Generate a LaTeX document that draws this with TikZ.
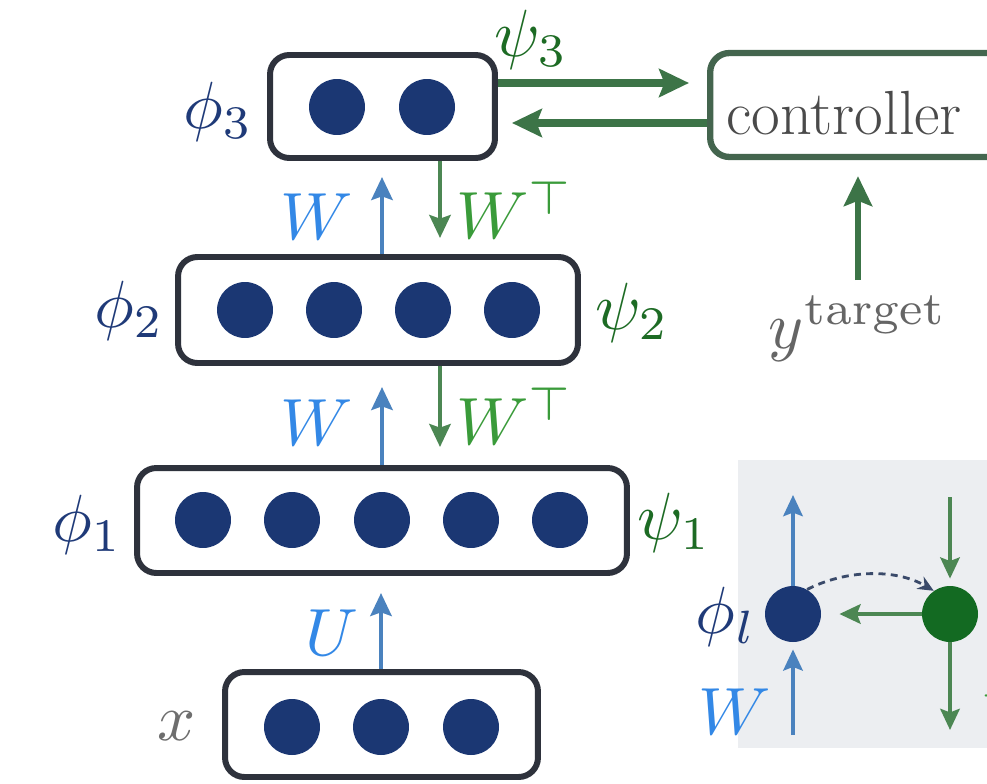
\documentclass[tikz,border=0pt]{standalone}
\usepackage{graphicx}
\usetikzlibrary{arrows.meta}

\definecolor{navy}{HTML}{1B3773}
\definecolor{labnavy}{HTML}{1F3A78}
\definecolor{psigreen}{HTML}{1D6B24}
\definecolor{wgreen}{HTML}{3A9B3A}
\definecolor{wblue}{HTML}{3388E6}
\definecolor{arrblue}{HTML}{4A82BE}
\definecolor{arrgreen}{HTML}{4C8753}
\definecolor{ctrlgreen}{HTML}{3C7447}
\definecolor{boxgray}{HTML}{2E323C}
\definecolor{ctrlframe}{HTML}{44654E}
\definecolor{softgray}{HTML}{4A4A4A}
\definecolor{panelgray}{HTML}{ECEEF1}
\definecolor{dotgreen}{HTML}{136A22}
\definecolor{dashslate}{HTML}{3A4A6A}

% math labels are set at 10pt and enlarged
\newcommand\biglab[1]{\scalebox{3.8}{#1}}

\begin{document}
\begin{tikzpicture}[x=0.02cm,y=-0.02cm,
  layer/.style={draw=boxgray, line width=3.4pt, rounded corners=11pt, fill=white, inner sep=0pt},
  ctrlbox/.style={draw=ctrlframe, line width=3.6pt, rounded corners=11pt, fill=white, inner sep=0pt},
  unit/.style={circle, fill=navy, minimum size=1.12cm, inner sep=0pt},
  gunit/.style={circle, fill=dotgreen, minimum size=1.12cm, inner sep=0pt},
  lbl/.style={inner sep=0pt},
  upw/.style={draw=arrblue, line width=2.6pt, -{Stealth[length=13pt,width=12pt,inset=2pt]}},
  downw/.style={draw=arrgreen, line width=2.6pt, -{Stealth[length=13pt,width=12pt,inset=2pt]}},
  ctrlarr/.style={draw=ctrlgreen, line width=4pt, -{Stealth[length=17pt,width=16pt,inset=3pt]}},
  thinblue/.style={draw=arrblue, line width=2.3pt, -{Stealth[length=12pt,width=11pt,inset=2pt]}},
  thingreen/.style={draw=arrgreen, line width=2.3pt, -{Stealth[length=12pt,width=11pt,inset=2pt]}}
]
\useasboundingbox (0,0) rectangle (987,784);
\clip (0,0) rectangle (987,784);

% side panel with a single unit pair
\fill[panelgray] (738,460) rectangle (1000,748);

% layer boxes
\node[layer, minimum width=4.5cm, minimum height=2.06cm] (L3) at (382.5,106.5) {};
\node[layer, minimum width=8cm, minimum height=2.12cm] (L2) at (378,310) {};
\node[layer, minimum width=9.8cm, minimum height=2.1cm] (L1) at (382,520.5) {};
\node[layer, minimum width=6.26cm, minimum height=2.1cm] (L0) at (381.5,724.5) {};

% units
\node[unit] (a1) at (337,107) {};
\node[unit] (a2) at (427,107) {};
\node[unit] (b1) at (245,310) {};
\node[unit] (b2) at (334,310) {};
\node[unit] (b3) at (423,310) {};
\node[unit] (b4) at (512,310) {};
\node[unit] (c1) at (203,520) {};
\node[unit] (c2) at (292,520) {};
\node[unit] (c3) at (382,520) {};
\node[unit] (c4) at (471,520) {};
\node[unit] (c5) at (560,520) {};
\node[unit] (d1) at (292,727) {};
\node[unit] (d2) at (381,727) {};
\node[unit] (d3) at (471,727) {};

% controller
\node[ctrlbox, anchor=west, minimum width=8cm, minimum height=2.08cm] (ctrl) at (707,105) {};
\node[anchor=west, inner sep=0pt, text=softgray, font=\fontsize{35.5}{38}\selectfont] (ctrltxt) at (726,113) {controller};

% feedforward and feedback connectors
\coordinate (uTip) at (381,593);
\coordinate (w1Tip) at (382,387);
\coordinate (g1Tip) at (440,447);
\coordinate (w2Tip) at (382,177);
\coordinate (g2Tip) at (440,238);
\draw[upw] (L0.north -| uTip) -- (uTip);
\draw[upw] (L1.north -| w1Tip) -- (w1Tip);
\draw[downw] (L2.south -| g1Tip) -- (g1Tip);
\draw[upw] (L2.north -| w2Tip) -- (w2Tip);
\draw[downw] (L3.south -| g2Tip) -- (g2Tip);

\coordinate (rOut) at (0,83);
\coordinate (rIn) at (0,123);
\draw[ctrlarr, shorten >=0.36cm] (L3.east |- rOut) -- (ctrl.west |- rOut);
\draw[ctrlarr, shorten >=0.28cm] (ctrl.west |- rIn) -- (L3.east |- rIn);

\coordinate (tBase) at (858,280);
\draw[ctrlarr, line width=3.6pt, shorten >=0.32cm] (tBase) -- (ctrl.south -| tBase);

% single unit pair in the panel
\node[unit] (pl) at (793,614) {};
\node[gunit] (ql) at (950,614) {};
\coordinate (plTop) at (793,495);
\coordinate (plBot) at (793,735);
\coordinate (qlTop) at (950,497);
\coordinate (qlBot) at (950,730);
\draw[thinblue] (pl.north) -- (plTop);
\draw[thinblue] (plBot) -- ([yshift=-4pt]pl.south);
\draw[thingreen, shorten >=4pt] (qlTop) -- (ql.north);
\draw[thingreen] (ql.south) -- (qlBot);
\draw[thingreen, line width=2.8pt, shorten >=0.36cm] (ql.west) -- (pl.east);
\draw[dashslate, line width=1.6pt, dash pattern=on 4pt off 3pt, -{Stealth[length=9pt,width=8pt]}]
  (pl.60) .. controls (845,570) and (895,568) .. (ql.125);

% labels
\node[lbl, text=labnavy] (lphi3) at (218,112) {\biglab{$\phi_3$}};
\node[lbl, text=psigreen] (lpsi3) at (531,40) {\biglab{$\psi_3$}};
\node[lbl, text=wblue] (lw2) at (317,217) {\biglab{$W$}};
\node[lbl, text=wgreen] (lwt2) at (515,210) {\biglab{$W^\top$}};
\node[lbl, text=labnavy] (lphi2) at (129,311) {\biglab{$\phi_2$}};
\node[lbl, text=psigreen] (lpsi2) at (632,313) {\biglab{$\psi_2$}};
\node[lbl, text=wblue] (lw1) at (317,423) {\biglab{$W$}};
\node[lbl, text=wgreen] (lwt1) at (515,416) {\biglab{$W^\top$}};
\node[lbl, text=labnavy] (lphi1) at (87,525) {\biglab{$\phi_1$}};
\node[lbl, text=psigreen] (lpsi1) at (674,523) {\biglab{$\psi_1$}};
\node[lbl, text=wblue] (lu) at (332,633) {\biglab{$U$}};
\node[lbl, text=softgray!80] (lx) at (177,726) {\biglab{$x$}};
\node[lbl, text=softgray!85] (ly) at (858,329) {\biglab{$y^{\mathrm{target}}$}};
\node[lbl, text=labnavy] (lphil) at (726,617) {\biglab{$\phi_l$}};
\node[lbl, text=wblue] (lwl) at (735,712) {\biglab{$W$}};
\node[lbl, text=wgreen, anchor=west] (lwtl) at (981,712) {\biglab{$W^\top$}};
\end{tikzpicture}
\end{document}
